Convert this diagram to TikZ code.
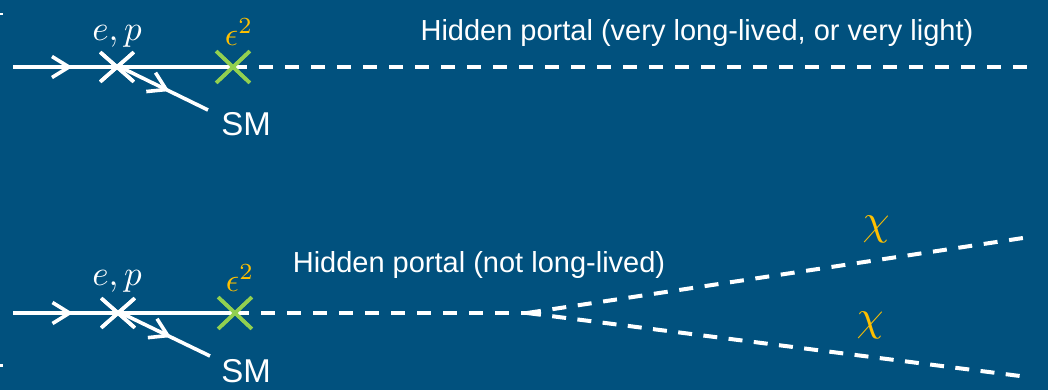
\documentclass[tikz,border=0pt]{standalone}
\usepackage{fontspec}
\setmainfont{Liberation Sans}
\usetikzlibrary{shapes.misc,arrows.meta,decorations.markings}
\definecolor{bgblue}{RGB}{1,81,126}
\definecolor{vgreen}{RGB}{146,208,80}
\definecolor{lblgold}{RGB}{255,192,0}
\tikzset{
  x=1pt, y=-1pt,
  chev/.tip={Straight Barb[length=17pt,width=21pt,line width=3.6pt]},
  fermion/.style={draw=white, line width=3.6pt},
  portal/.style={draw=white, line width=4pt, dash pattern=on 14pt off 12pt},
  branch/.style={portal, dash pattern=on 14pt off #1},
  arrowat/.style={postaction={decorate},
    decoration={markings, mark=at position #1 with {\arrow[white]{chev}}}},
  vtx/.style={cross out, draw=white, line width=3.6pt, minimum width=30pt,
    minimum height=26pt, inner sep=0pt},
  mix/.style={vtx, draw=vgreen, minimum height=28pt},
  txt/.style={text=white, inner sep=0pt, font=\fontsize{29}{34}\selectfont},
  smtxt/.style={text=white, inner sep=0pt, font=\fontsize{33}{38}\selectfont},
  mathlbl/.style={text=white, inner sep=0pt, font=\fontsize{10}{12}\selectfont, scale=3.5},
  goldlbl/.style={text=lblgold, inner sep=0pt, font=\fontsize{10}{12}\selectfont, scale=3.3},
  chilbl/.style={text=lblgold, inner sep=0pt, font=\fontsize{10}{12}\selectfont, scale=4.3},
}
\begin{document}
\begin{tikzpicture}
\fill[bgblue] (0,0) rectangle (1048,390);
\useasboundingbox (0,0) rectangle (1048,390);
% small marks on the left edge
\fill[white] (0,13) rectangle (3,15.5);
\fill[white] (0,364) rectangle (3,366.5);

% ---------- upper process: long-lived / very light portal ----------
\coordinate (inA) at (13,67);
\node[vtx] (epA) at (117,67) {};
\node[mix] (mxA) at (233,67) {};
\coordinate (smA) at (208,110);
\coordinate (endA) at (1030,67);
\path[portal] (mxA.center) -- (endA);
\path[fermion, arrowat=0.27] (inA) -- (mxA.center);
\path[fermion, arrowat=0.56] ([xshift=3pt]epA.center) -- (smA);
\node[vtx] at (epA) {};
\node[mix] at (mxA) {};
\node[smtxt] (smlA) at (246,124) {SM};
\node[mathlbl] (eplA) at (117,36) {$e,p$};
\node[goldlbl] (epsA) at (239,32) {$\epsilon^2$};
\node[txt] (hpA) at (697,33) {Hidden portal (very long-lived, or very light)};

% ---------- lower process: portal decaying to chi pairs ----------
\coordinate (inB) at (13,313);
\node[vtx] (epB) at (118,313) {};
\node[mix] (mxB) at (235,313) {};
\coordinate (smB) at (210,356);
\coordinate (dk) at (527,313);
\coordinate (chiU) at (1023,238);
\coordinate (chiD) at (1020,376);
\path[portal] (mxB.center) -- (dk);
\path[branch=11.66pt] (dk) -- (chiU);
\path[branch=11.4pt] (dk) -- (chiD);
\path[fermion, arrowat=0.27] (inB) -- (mxB.center);
\path[fermion, arrowat=0.56] ([xshift=3pt]epB.center) -- (smB);
\node[vtx] at (epB) {};
\node[mix] at (mxB) {};
\node[smtxt] (smlB) at (246,371) {SM};
\node[mathlbl] (eplB) at (117,281) {$e,p$};
\node[goldlbl] (epsB) at (240,278) {$\epsilon^2$};
\node[txt] (hpB) at (479,265) {Hidden portal (not long-lived)};
\node[chilbl] (chlU) at (876,229) {$\chi$};
\node[chilbl] (chlD) at (870,325) {$\chi$};
\end{tikzpicture}
\end{document}
